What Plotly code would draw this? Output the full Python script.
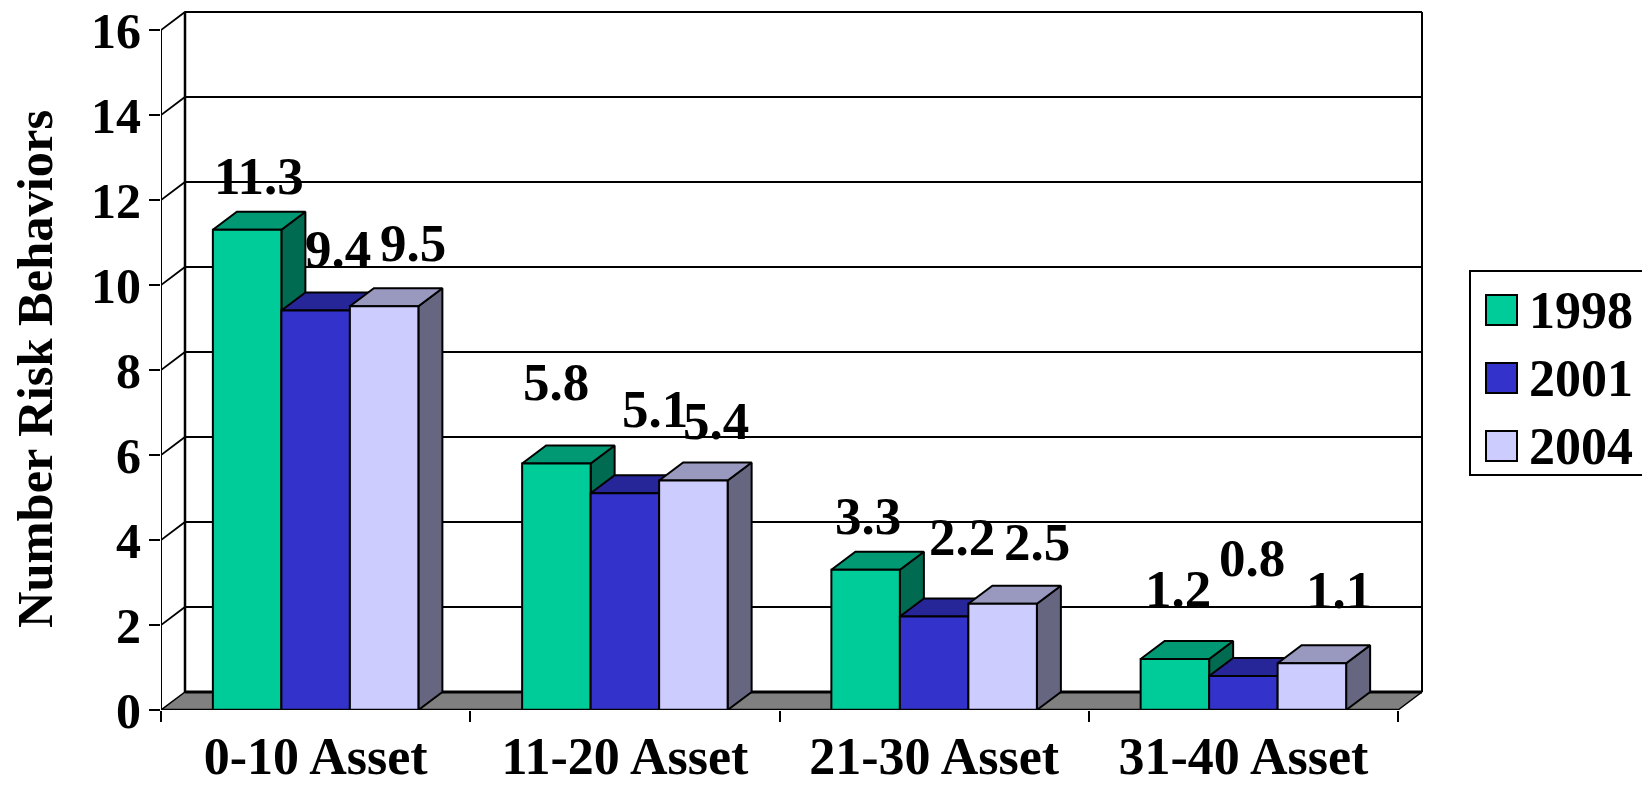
import plotly.graph_objects as go

# ---- data ----
categories = ["0-10 Asset", "11-20 Asset", "21-30 Asset", "31-40 Asset"]
series_names = ["1998", "2001", "2004"]
values_1998 = [11.3, 5.8, 3.3, 1.2]
values_2001 = [9.4, 5.1, 2.2, 0.8]
values_2004 = [9.5, 5.4, 2.5, 1.1]
y_ticks = [0, 2, 4, 6, 8, 10, 12, 14, 16]
y_title = "Number Risk Behaviors"

# ---- style ----
FONT = "Liberation Serif"
FS = 52
LABEL_FS = 53
TITLE_FS = 50.5
YTICK_FS = 50
front_colors = ["#00CC99", "#3333CC", "#CCCCFF"]
top_colors = ["#009973", "#262699", "#9999BF"]
side_colors = ["#006B50", "#1A1A66", "#666680"]
FLOOR = "#808080"

# ---- layout geometry (pixels) ----
W, H = 1642, 785
PX0, PY0 = 161, 710          # front-left origin
CAT_PX, UNIT_PX = 309.25, 42.5
DX_PX, DY_PX = 24, 18        # 3-D depth
TOP_PAD, RIGHT_EDGE = 8, 1426
XMAX = (RIGHT_EDGE - PX0) / CAT_PX
YMAX = (PY0 - TOP_PAD) / UNIT_PX
dx, dy = DX_PX / CAT_PX, DY_PX / UNIT_PX
bar_w = 68.5 / CAT_PX
n = len(categories)

# label offsets from the bar's top-centre (pixels): the source placed these by hand
label_xshift = [[12, 0, 2, 3], [22, 30, 28, 9], [29, 23, 34, 27]]
label_yshift = [[54, 82, 54, 70], [62, 84, 80, 118], [63, 60, 62, 73]]


def px_x(p):
    return (p - PX0) / (RIGHT_EDGE - PX0)


def px_y(p):
    return (PY0 - p) / (PY0 - TOP_PAD)


def line(xs, ys, width=2):
    return go.Scatter(x=xs, y=ys, mode="lines", line=dict(color="black", width=width),
                      hoverinfo="skip", showlegend=False, cliponaxis=False, zorder=-1)


fig = go.Figure()

# floor
fig.add_trace(go.Scatter(x=[0, n, n + dx, dx, 0], y=[0, 0, dy, dy, 0], mode="lines", fill="toself",
                         fillcolor=FLOOR, line=dict(color="black", width=1.5), hoverinfo="skip",
                         showlegend=False, cliponaxis=False, zorder=-2))
# walls and gridlines
for t in y_ticks[1:]:
    fig.add_trace(line([0, dx, n + dx], [t, t + dy, t + dy], 1.8))
fig.add_trace(line([dx, n + dx], [dy, dy], 3))
fig.add_trace(line([dx, dx], [dy, y_ticks[-1] + dy], 2.5))
fig.add_trace(line([n + dx, n + dx], [dy, y_ticks[-1] + dy], 2))
fig.add_trace(line([0, 0], [0, y_ticks[-1]], 2))
fig.add_trace(line([dx, n + dx], [y_ticks[-1] + dy] * 2, 2))

# bars: side and top faces first, then the front, series by series
all_values = [values_1998, values_2001, values_2004]
z = 0
for s, vals in enumerate(all_values):
    xc = [i + 0.5 + (s - 1) * bar_w for i in range(n)]
    sx, sy, tx, ty = [], [], [], []
    for c, v in zip(xc, vals):
        l, r = c - bar_w / 2, c + bar_w / 2
        sx += [r, r + dx, r + dx, r, r, None]
        sy += [0, dy, v + dy, v, 0, None]
        tx += [l, r, r + dx, l + dx, l, None]
        ty += [v, v, v + dy, v + dy, v, None]
    for xs, ys, col in ((sx, sy, side_colors[s]), (tx, ty, top_colors[s])):
        fig.add_trace(go.Scatter(x=xs, y=ys, mode="lines", fill="toself", fillcolor=col,
                                 line=dict(color="black", width=2), hoverinfo="skip",
                                 showlegend=False, cliponaxis=False, zorder=z))
        z += 1
    fig.add_trace(go.Bar(x=xc, y=vals, width=bar_w, name=series_names[s], showlegend=False,
                         marker=dict(color=front_colors[s], line=dict(color="black", width=2)),
                         zorder=z))
    z += 1

# front baseline on top of the bars
fig.add_trace(go.Scatter(x=[0, n], y=[0, 0], mode="lines", line=dict(color="black", width=2.5),
                         hoverinfo="skip", showlegend=False, cliponaxis=False, zorder=z))

annotations = []
for s, vals in enumerate(all_values):
    for i, v in enumerate(vals):
        annotations.append(dict(x=i + 0.5 + (s - 1) * bar_w, y=v, xref="x", yref="y",
                                text=f"{v:.1f}", showarrow=False, xanchor="center", yanchor="middle",
                                font=dict(size=LABEL_FS),
                                xshift=label_xshift[s][i], yshift=label_yshift[s][i]))
annotations.append(dict(x=px_x(35), y=px_y(369), xref="paper", yref="paper", text=y_title,
                        font=dict(size=TITLE_FS),
                        textangle=-90, showarrow=False, xanchor="center", yanchor="middle"))

# legend
shapes = [dict(type="rect", xref="paper", yref="paper", x0=px_x(1470), x1=px_x(1660),
               y0=px_y(475), y1=px_y(271), line=dict(color="black", width=2), fillcolor="white")]
for s, name in enumerate(series_names):
    cy = 310 + s * 68
    shapes.append(dict(type="rect", xref="paper", yref="paper", x0=px_x(1486), x1=px_x(1517),
                       y0=px_y(cy + 15), y1=px_y(cy - 15), line=dict(color="black", width=2),
                       fillcolor=front_colors[s]))
    annotations.append(dict(x=px_x(1527), y=px_y(cy), xref="paper", yref="paper", text=name,
                            showarrow=False, xanchor="left", yanchor="middle"))

fig.update_layout(
    width=W, height=H, barmode="overlay",
    margin=dict(l=PX0, r=W - RIGHT_EDGE, t=TOP_PAD, b=H - PY0, pad=0, autoexpand=False),
    paper_bgcolor="white", plot_bgcolor="white", showlegend=False,
    font=dict(family=FONT, size=FS, color="black", weight=700),
    annotations=annotations, shapes=shapes,
    xaxis=dict(range=[0, XMAX], tickmode="array", tickvals=[i + 0.5 for i in range(n)], ticktext=categories,
               ticks="", ticklen=0, showgrid=False, zeroline=False, showline=False, ticklabelstandoff=11,
               automargin=False,
               minor=dict(tickmode="array", tickvals=list(range(n + 1)), ticks="outside", ticklen=11,
                          tickwidth=2, tickcolor="black", showgrid=False)),
    yaxis=dict(range=[0, YMAX], tickmode="array", tickvals=y_ticks, ticks="outside", ticklen=11, tickwidth=2,
               tickcolor="black", showgrid=False, zeroline=False, showline=False, automargin=False,
               tickfont=dict(size=YTICK_FS), ticklabelstandoff=-2),
)

fig.write_html("out.html", config=dict(displayModeBar=False),
               post_script="document.body.style.margin='0';document.body.style.overflow='hidden';")
